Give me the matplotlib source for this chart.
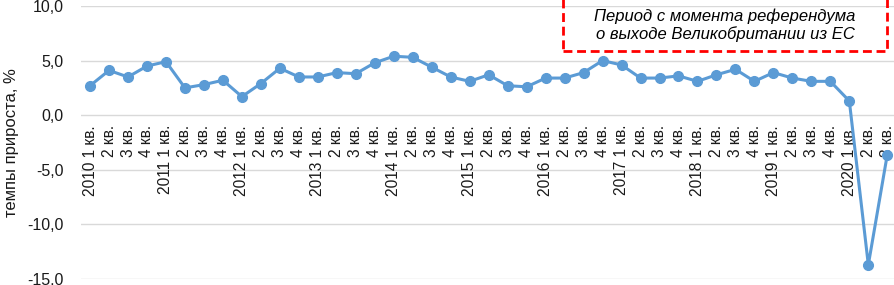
import matplotlib.pyplot as plt
from matplotlib.patches import Rectangle
from matplotlib.ticker import FuncFormatter

years = [2010, 2011, 2012, 2013, 2014, 2015, 2016, 2017, 2018, 2019, 2020]
quarters = ["1 кв.", "2 кв.", "3 кв.", "4 кв."]

growth = [2.7, 4.1, 3.5, 4.5,
          4.9, 2.5, 2.8, 3.2,
          1.7, 2.9, 4.3, 3.5,
          3.5, 3.9, 3.8, 4.8,
          5.4, 5.3, 4.4, 3.5,
          3.1, 3.7, 2.7, 2.6,
          3.4, 3.4, 3.9, 5.0,
          4.6, 3.4, 3.4, 3.6,
          3.1, 3.7, 4.2, 3.1,
          3.9, 3.4, 3.1, 3.1,
          1.3, -13.7, -3.6]

labels = []
for y in years:
    for k, q in enumerate(quarters):
        labels.append(f"{y} {q}" if k == 0 else q)
labels = labels[:len(growth)]

plt.rcParams["font.family"] = ["Liberation Sans", "DejaVu Sans"]

fig = plt.figure(figsize=(8.95, 2.85), dpi=100)
ax = fig.add_axes([0.09, 0.021, 0.912, 0.958])

blue = "#5B9BD5"
x = list(range(len(growth)))
ax.plot(x, growth, color=blue, lw=2.2, marker="o", ms=7, zorder=3)

ax.set_xlim(-0.5, 42.5)
ax.set_ylim(-15, 10)
ax.set_yticks([-15, -10, -5, 0, 5, 10])
ax.yaxis.set_major_formatter(FuncFormatter(lambda v, p: f"{v:.1f}".replace(".", ",")))
ax.tick_params(axis="y", length=0, pad=12, labelsize=11.5, colors="#1a1a1a")
ax.set_xticks([])
ax.grid(axis="y", color="#D9D9D9", lw=1)
ax.set_axisbelow(True)
for s in ax.spines.values():
    s.set_visible(False)

for i, lbl in enumerate(labels):
    ax.annotate(lbl, (i, 0), xytext=(0, -7), textcoords="offset points",
                rotation=90, ha="center", va="top", fontsize=11.2, color="#1a1a1a",
                zorder=2)

fig.text(0.013, 0.5, "темпы прироста, %", rotation=90, ha="center", va="center",
         fontsize=12, color="#1a1a1a")

# red dashed box (top edge sits above the figure)
box = Rectangle((562.7 / 895, 1 - 50.7 / 285), 324 / 895, 0.3,
                transform=fig.transFigure, fill=False, edgecolor="#FF0000",
                lw=2, ls=(0, (3.2, 1.7)), clip_on=False)
fig.patches.append(box)
fig.text(725 / 895, 1 - 25 / 285, "Период с момента референдума\nо выходе Великобритании из ЕС",
         ha="center", va="center", fontsize=12, style="italic", color="#000000",
         linespacing=1.2)

fig.savefig("out.png", dpi=100)
